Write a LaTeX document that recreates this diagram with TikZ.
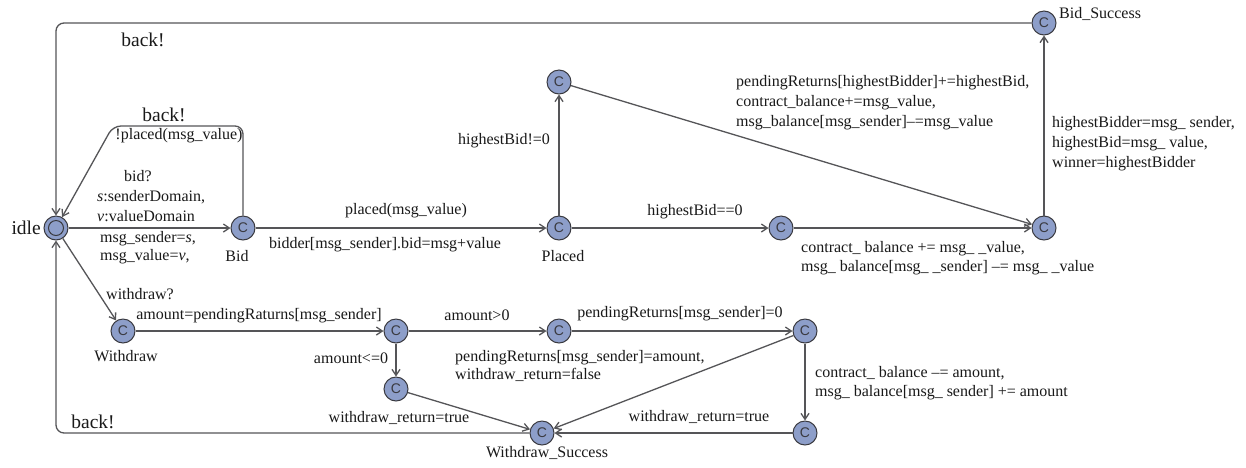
\documentclass[tikz,border=0pt]{standalone}
\usepackage{fontspec}
\setmainfont{Liberation Serif}
\newfontfamily\labfont{Liberation Serif}
\newfontfamily\locfont{Liberation Sans}
\usetikzlibrary{arrows.meta}
\definecolor{locfill}{RGB}{141,158,201}
\definecolor{locline}{RGB}{58,58,64}
\definecolor{edgecol}{RGB}{85,85,88}
\definecolor{txt}{RGB}{25,25,25}
\begin{document}
\begin{tikzpicture}[x=1pt,y=-1pt,
  loc/.style={circle,draw=locline,fill=locfill,line width=1pt,minimum size=24pt,
    inner sep=0pt,font=\locfont\fontsize{14}{14}\selectfont,text=locline},
  lab/.style={font=\labfont\fontsize{16}{20}\selectfont,text=txt,inner sep=0pt},
  biglab/.style={font=\labfont\fontsize{19.5}{22}\selectfont,text=txt,inner sep=0pt},
  edge/.style={draw=edgecol,line width=1.3pt,
    -{Straight Barb[length=6pt,width=8pt]}},
  loop/.style={edge,rounded corners=8pt}]

\fill[white] (0,0) rectangle (1246,467);
\useasboundingbox (0,0) rectangle (1246,467);

% locations of the automaton
\node[loc] (idle) at (56,228) {};
\draw[locline,line width=1pt] (idle.center) circle[radius=7.5pt];
\node[loc] (bid)    at (243,228) {C};
\node[loc] (placed) at (559,228) {C};
\node[loc] (top)    at (559,82)  {C};
\node[loc] (hb0)    at (781,228) {C};
\node[loc] (right)  at (1044,228) {C};
\node[loc] (bids)   at (1044,23) {C};
\node[loc] (wd)     at (123,331) {C};
\node[loc] (amt)    at (396,331) {C};
\node[loc] (le0)    at (396,389) {C};
\node[loc] (gt0)    at (559,331) {C};
\node[loc] (pend)   at (805,331) {C};
\node[loc] (br)     at (805,433) {C};
\node[loc] (ws)     at (542,433) {C};

% location names
\node[biglab,anchor=east] (idleL) at (41,228) {idle};
\node[lab] (bidL)    at (237,256) {Bid};
\node[lab] (placedL) at (563,256) {Placed};
\node[lab] (wdL)     at (126,356) {Withdraw};
\node[lab] (wsL)     at (547,453) {Withdraw\_Success};
\node[lab,anchor=west] (bsL) at (1059,14) {Bid\_Success};

% transitions
\draw[edge] (idle) -- (bid);
\draw[loop] (bid.north) -- (243,126) -- (113,126) -- (idle);
\draw[edge] (bid) -- (placed);
\draw[edge] (placed) -- (top);
\draw[edge] (placed) -- (hb0);
\draw[edge] (hb0) -- (right);
\draw[edge] (top) -- (right);
\draw[edge] (right) -- (bids);
\draw[loop] (bids) -- (56,23) -- (idle);
\draw[edge] (idle) -- (wd);
\draw[edge] (wd) -- (amt);
\draw[edge] (amt) -- (le0);
\draw[edge] (amt) -- (gt0);
\draw[edge] (gt0) -- (pend);
\draw[edge] (pend) -- (br);
\draw[edge] (pend) -- (ws);
\draw[edge] (br) -- (ws);
\draw[edge] (le0) -- (ws);
\draw[loop] (ws) -- (56,433) -- (idle);

% guards, synchronisations and updates
\node[biglab] (back1) at (143,40) {back!};
\node[biglab] (back2) at (164,115) {back!};
\node[biglab] (back3) at (93,422) {back!};
\node[lab] (nplaced) at (179,136) {!placed(msg\_value)};
\node[lab] (bidq) at (138,176) {bid?};
\node[lab,anchor=west,align=left] (sel) at (97,206)
  {\textit{s}:senderDomain,\\\textit{v}:valueDomain};
\node[lab,anchor=west,align=left,font=\labfont\fontsize{16}{18}\selectfont] (upd) at (100,248)
  {msg\_sender=\textit{s},\\msg\_value=\textit{v},};
\node[lab] (wq) at (140,294) {withdraw?};
\node[lab] (g1) at (406,211) {placed(msg\_value)};
\node[lab] (a1) at (385,245) {bidder[msg\_sender].bid=msg+value};
\node[lab] (g2) at (504,141) {highestBid!=0};
\node[lab] (g3) at (695,212) {highestBid==0};
\node[lab,anchor=west,align=left] (a2) at (736,103)
  {pendingReturns[highestBidder]+=highestBid,\\contract\_balance+=msg\_value,\\msg\_balance[msg\_sender]–=msg\_value};
\node[lab,anchor=west,align=left] (a3) at (1052,144)
  {highestBidder=msg\_ sender,\\highestBid=msg\_ value,\\winner=highestBidder};
\node[lab,anchor=west,align=left,font=\labfont\fontsize{16}{19}\selectfont] (a4) at (801,258)
  {contract\_ balance += msg\_ \_value,\\msg\_ balance[msg\_ \_sender] –= msg\_ \_value};
\node[lab] (a5) at (259,316) {amount=pendingRaturns[msg\_sender]};
\node[lab] (g4) at (477,315) {amount>0};
\node[lab] (g5) at (351,358) {amount<=0};
\node[lab] (a6) at (680,314) {pendingReturns[msg\_sender]=0};
\node[lab,anchor=west,align=left,font=\labfont\fontsize{16}{18}\selectfont] (a7) at (455,366)
  {pendingReturns[msg\_sender]=amount,\\withdraw\_return=false};
\node[lab,anchor=west,align=left,font=\labfont\fontsize{16}{19}\selectfont] (a8) at (815,383)
  {contract\_ balance –= amount,\\msg\_ balance[msg\_ sender] += amount};
\node[lab] (a9) at (399,418) {withdraw\_return=true};
\node[lab] (a10) at (699,417) {withdraw\_return=true};
\end{tikzpicture}
\end{document}
